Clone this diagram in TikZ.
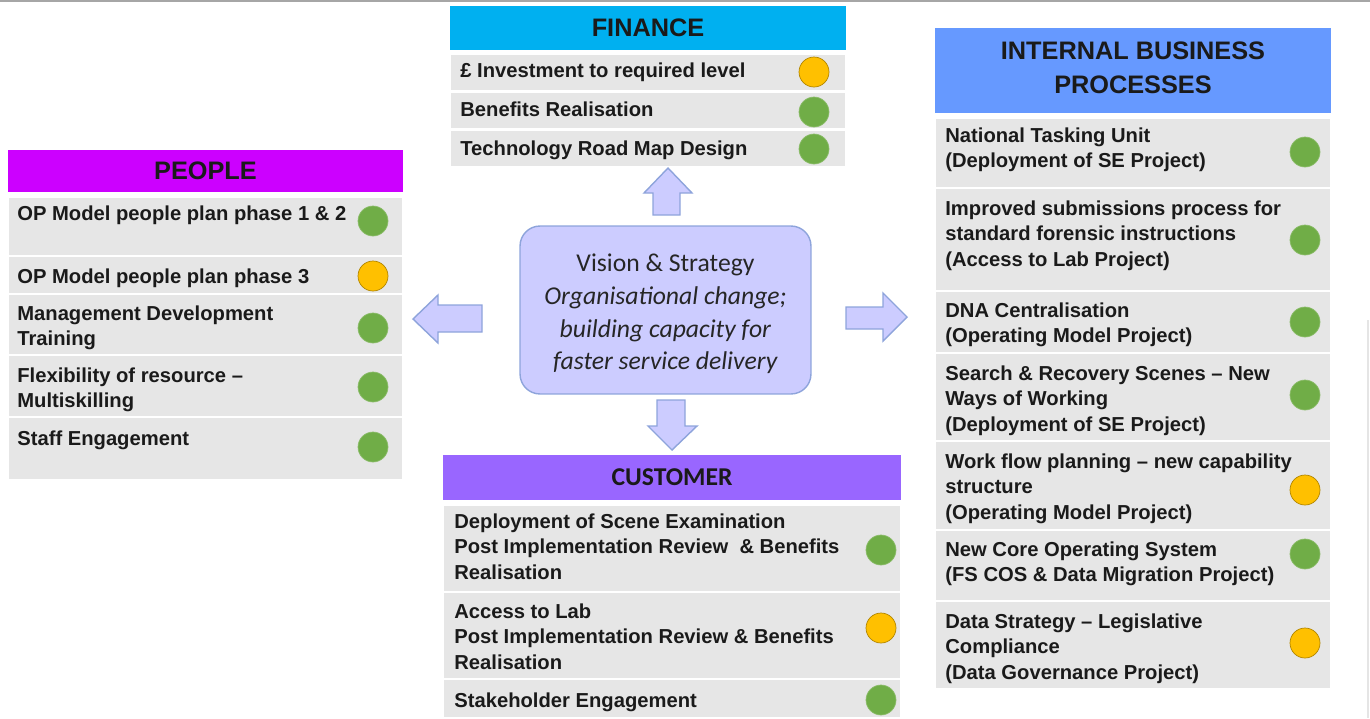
\documentclass[tikz,border=0pt]{standalone}
\usepackage{fontspec}
\setmainfont{Liberation Sans}
\newfontfamily\calfont{Carlito}
\usetikzlibrary{positioning}

\definecolor{finblue}{HTML}{00B0F0}
\definecolor{peoplepink}{HTML}{CC00FF}
\definecolor{ibpblue}{HTML}{6699FF}
\definecolor{custpurple}{HTML}{9966FF}
\definecolor{rowgray}{HTML}{E6E6E6}
\definecolor{dotgreen}{HTML}{70AD47}
\definecolor{dotamber}{HTML}{FFC000}
\definecolor{lavender}{HTML}{CCCCFF}
\definecolor{lavline}{HTML}{8EA4DB}
\definecolor{inktext}{HTML}{1A1A1A}

\tikzset{
  head/.style={font=\fontsize{14.4}{19.3}\selectfont\bfseries, text=inktext, align=center, inner sep=0},
  item/.style={font=\fontsize{11.5}{14.7}\selectfont\bfseries, text=inktext, align=left, anchor=north west, inner sep=0},
  row/.style={fill=rowgray, draw=white, line width=0.8pt},
  okdot/.style={circle, minimum size=0.6cm, inner sep=0, fill=dotgreen, draw=dotgreen!80!white, line width=0.4pt},
  warndot/.style={circle, minimum size=0.6cm, inner sep=0, fill=dotamber, draw=dotamber!70!black, line width=0.4pt},
  blockarrow/.style={fill=lavender, draw=lavline, line width=0.8pt, line join=miter},
}

\begin{document}
\begin{tikzpicture}[x=0.02cm, y=-0.02cm]
\useasboundingbox (0,0) rectangle (1370,718);
\draw[gray!70, line width=1.2pt] (0,1) -- (1370,1);
\draw[gray!20, line width=0.8pt] (1368,320) -- (1368,718);

% finance
\draw[fill=finblue, draw=none] (450,6) rectangle (846,50);
\node[head] (fin) at (648,28) {FINANCE};
\draw[row] (450,54) rectangle (846,91);
\draw[row] (450,92) rectangle (846,129);
\draw[row] (450,130) rectangle (846,167);
\node[item] (fin1) at (460,63) {£ Investment to required level};
\node[item] (fin2) at (460,102) {Benefits Realisation};
\node[item] (fin3) at (460,140) {Technology Road Map Design};
\node[warndot] (fin1d) at (814,72) {};
\node[okdot] (fin2d) at (814,112) {};
\node[okdot] (fin3d) at (814,149) {};

% people
\draw[fill=peoplepink, draw=none] (8,150) rectangle (403,192);
\node[head] (ppl) at (205.5,171) {PEOPLE};
\draw[row] (8,197) rectangle (403,256);
\draw[row] (8,256) rectangle (403,294);
\draw[row] (8,294) rectangle (403,355);
\draw[row] (8,355) rectangle (403,417);
\draw[row] (8,417) rectangle (403,480);
\node[item] (ppl1) at (17,205) {OP Model people plan phase 1 \& 2};
\node[item] (ppl2) at (17,268) {OP Model people plan phase 3};
\node[item] (ppl3) at (17,305) {Management Development\\Training};
\node[item] (ppl4) at (17,367) {Flexibility of resource --\\Multiskilling};
\node[item] (ppl5) at (17,430) {Staff Engagement};
\node[okdot] (ppl1d) at (373,221) {};
\node[warndot] (ppl2d) at (373,276) {};
\node[okdot] (ppl3d) at (373,328) {};
\node[okdot] (ppl4d) at (373,387) {};
\node[okdot] (ppl5d) at (373,447) {};

% internal business processes
\draw[fill=ibpblue, draw=none] (935,28) rectangle (1331,113);
\node[head] (ibp) at (1133,67.5) {INTERNAL BUSINESS\\PROCESSES};
\draw[row] (935,118) rectangle (1331,188);
\draw[row] (935,188) rectangle (1331,291);
\draw[row] (935,291) rectangle (1331,353);
\draw[row] (935,353) rectangle (1331,441);
\draw[row] (935,441) rectangle (1331,530);
\draw[row] (935,530) rectangle (1331,601);
\draw[row] (935,601) rectangle (1331,689);
\node[item] (ibp1) at (945,127) {National Tasking Unit\\(Deployment of SE Project)};
\node[item] (ibp2) at (945,200) {Improved submissions process for\\standard forensic instructions\\(Access to Lab Project)};
\node[item] (ibp3) at (945,302) {DNA Centralisation\\(Operating Model Project)};
\node[item] (ibp4) at (945,365) {Search \& Recovery Scenes -- New\\Ways of Working\\(Deployment of SE Project)};
\node[item] (ibp5) at (945,453) {Work flow planning -- new capability\\structure\\(Operating Model Project)};
\node[item] (ibp6) at (945,541) {New Core Operating System\\(FS COS \& Data Migration Project)};
\node[item] (ibp7) at (945,613) {Data Strategy -- Legislative\\Compliance\\(Data Governance Project)};
\node[okdot] (ibp1d) at (1305,152) {};
\node[okdot] (ibp2d) at (1305,240) {};
\node[okdot] (ibp3d) at (1305,322) {};
\node[okdot] (ibp4d) at (1305,395) {};
\node[warndot] (ibp5d) at (1305,490) {};
\node[okdot] (ibp6d) at (1305,554) {};
\node[warndot] (ibp7d) at (1305,643) {};

% customer
\draw[fill=custpurple, draw=none] (443,455) rectangle (901,500);
\node[head, font=\calfont\fontsize{14.6}{18}\selectfont\bfseries] (cust) at (672,477.5) {CUSTOMER};
\draw[row] (443,505) rectangle (901,592);
\draw[row] (443,592) rectangle (901,679);
\draw[row] (443,679) rectangle (901,718);
\node[item] (cust1) at (454,513) {Deployment of Scene Examination\\Post Implementation Review \ \& Benefits\\Realisation};
\node[item] (cust2) at (454,603) {Access to Lab\\Post Implementation Review \& Benefits\\Realisation};
\node[item] (cust3) at (454,692) {Stakeholder Engagement};
\node[okdot] (cust1d) at (881,550) {};
\node[warndot] (cust2d) at (881,628) {};
\node[okdot] (cust3d) at (881,700) {};

% vision box and the four block arrows
\node[draw=lavline, fill=lavender, line width=0.8pt, rounded corners=0.4cm,
  minimum width=5.82cm, minimum height=3.36cm] (vs) at (665.5,310) {};
\node[align=center, text=black!85, inner sep=0,
  font=\calfont\fontsize{14.6}{18.6}\selectfont] (vstext) at (665.5,314)
  {Vision \& Strategy\\\textit{Organisational change;}\\\textit{building capacity for}\\\textit{faster service delivery}};
\draw[blockarrow] (668,168) -- (692,193) -- (680,193) -- (680,215) -- (653,215) -- (653,193) -- (644,193) -- cycle;
\draw[blockarrow] (657,400) -- (685,400) -- (685,426) -- (697,426) -- (672,450) -- (648,426) -- (657,426) -- cycle;
\draw[blockarrow] (413,319) -- (438,295) -- (438,305) -- (482,305) -- (482,332) -- (438,332) -- (438,343) -- cycle;
\draw[blockarrow] (846,307) -- (883,307) -- (883,293) -- (907,317) -- (883,341) -- (883,329) -- (846,329) -- cycle;

\end{tikzpicture}
\end{document}
